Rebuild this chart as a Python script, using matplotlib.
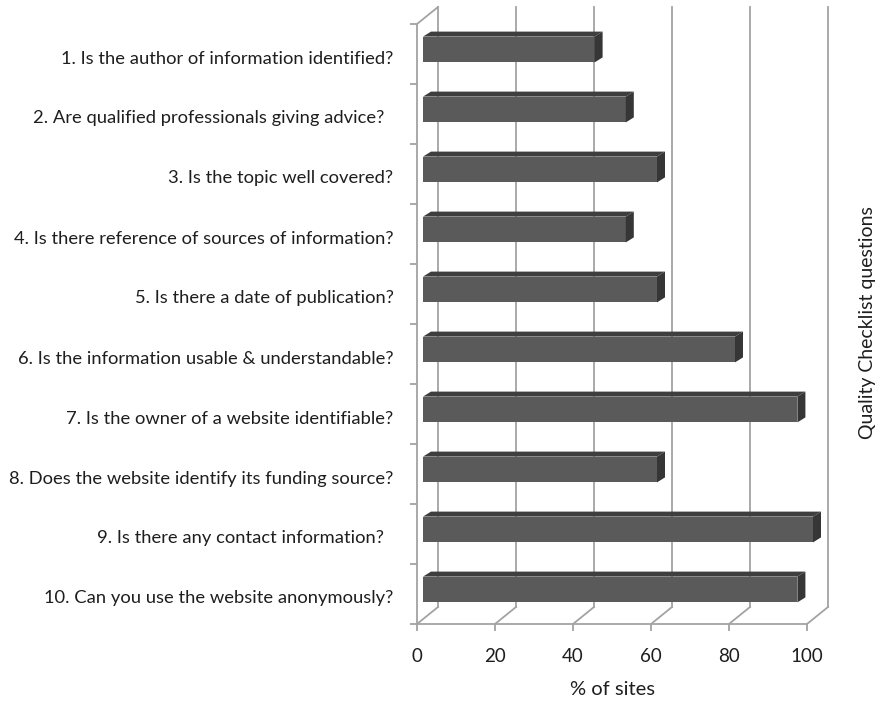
import matplotlib
matplotlib.use("Agg")
import matplotlib.pyplot as plt
from matplotlib.patches import Polygon
import numpy as np

plt.rcParams['font.family'] = ['Lato', 'DejaVu Sans']

questions = [
    "1. Is the author of information identified?",
    "2. Are qualified professionals giving advice?  ",
    "3. Is the topic well covered?",
    "4. Is there reference of sources of information?",
    "5. Is there a date of publication?",
    "6. Is the information usable & understandable?",
    "7. Is the owner of a website identifiable?",
    "8. Does the website identify its funding source?",
    "9. Is there any contact information?  ",
    "10. Can you use the website anonymously?",
]
pct_sites = [44, 52, 60, 52, 60, 80, 96, 60, 100, 96]
x_ticks = [0, 20, 40, 60, 80, 100]

W, H = 882, 703
fig = plt.figure(figsize=(W / 100, H / 100), dpi=100)
fig.patch.set_facecolor("white")

# front plane of the pseudo-3D box, in pixels
L, R, T, B = 417, 807, 24, 624
ax = fig.add_axes([L / W, (H - B) / H, (R - L) / W, (B - T) / H])
n = len(questions)
ax.set_xlim(0, 100)
ax.set_ylim(n + 0.5, 0.5)
ax.set_facecolor("none")

# pixel -> data unit conversion
ux = 100 / (R - L)
uy = n / (B - T)

# depth offset of the back wall
bx, by = 21 * ux, -17 * uy
grid_c = "#a3a3a3"
lw = 1.3

y_top, y_bot = 0.5, n + 0.5
for xv in x_ticks:
    # back wall gridline
    ax.plot([xv + bx, xv + bx], [y_bot + by, y_top + by], color=grid_c,
            lw=lw, clip_on=False, zorder=1)
    # floor diagonal
    ax.plot([xv, xv + bx], [y_bot, y_bot + by], color=grid_c, lw=lw,
            clip_on=False, zorder=1)

# left wall front edge and top diagonal
ax.plot([0, 0], [y_top, y_bot], color=grid_c, lw=lw, clip_on=False, zorder=1)
ax.plot([0, bx], [y_top, y_top + by], color=grid_c, lw=lw, clip_on=False, zorder=1)
# floor front edge
ax.plot([0, 100], [y_bot, y_bot], color=grid_c, lw=lw, clip_on=False, zorder=1)

# bars: front face, top face, side face
cats = np.arange(1, n + 1)
bar_dx, bar_dy = 6 * ux, -4.5 * uy
bh = 0.43
ex, ey = 8 * ux, -5 * uy
front_c, top_c, side_c = "#5a5a5a", "#3e3e3e", "#363636"

bars = ax.barh(cats + bar_dy, pct_sites, left=bar_dx, height=bh, color=front_c,
               edgecolor="none", zorder=3)
for b in bars:
    b.set_clip_on(False)
for c, v in zip(cats, pct_sites):
    yc = c + bar_dy
    yt, yb = yc - bh / 2, yc + bh / 2
    x0, x1 = bar_dx, bar_dx + v
    top = Polygon([(x0, yt), (x1, yt), (x1 + ex, yt + ey), (x0 + ex, yt + ey)],
                  closed=True, facecolor=top_c, edgecolor="none", zorder=3,
                  clip_on=False)
    side = Polygon([(x1, yt), (x1 + ex, yt + ey), (x1 + ex, yb + ey), (x1, yb)],
                   closed=True, facecolor=side_c, edgecolor="none", zorder=3,
                   clip_on=False)
    ax.add_patch(top)
    ax.add_patch(side)

for s in ax.spines.values():
    s.set_visible(False)

txt_c = "#1e1e1e"
ax.set_xticks(x_ticks)
ax.set_xticklabels([str(v) for v in x_ticks])
ax.tick_params(axis="x", length=5, width=lw, color=grid_c, pad=12,
               labelsize=13.5, labelcolor=txt_c)

ax.set_yticks(cats + 0.05)
ax.set_yticklabels(questions)
ax.set_yticks(np.arange(0.5, n + 1.0, 1.0), minor=True)
ax.tick_params(axis="y", which="major", length=0, pad=17, labelsize=13.2,
               labelcolor=txt_c)
ax.tick_params(axis="y", which="minor", length=5, width=lw, color=grid_c)

ax.set_xlabel("% of sites", fontsize=14.5, color=txt_c, labelpad=12)
fig.text(867 / W, 1 - 323 / H, "Quality Checklist questions", rotation=90,
         ha="center", va="center", fontsize=14, color=txt_c)

fig.savefig("out.png", dpi=100)
